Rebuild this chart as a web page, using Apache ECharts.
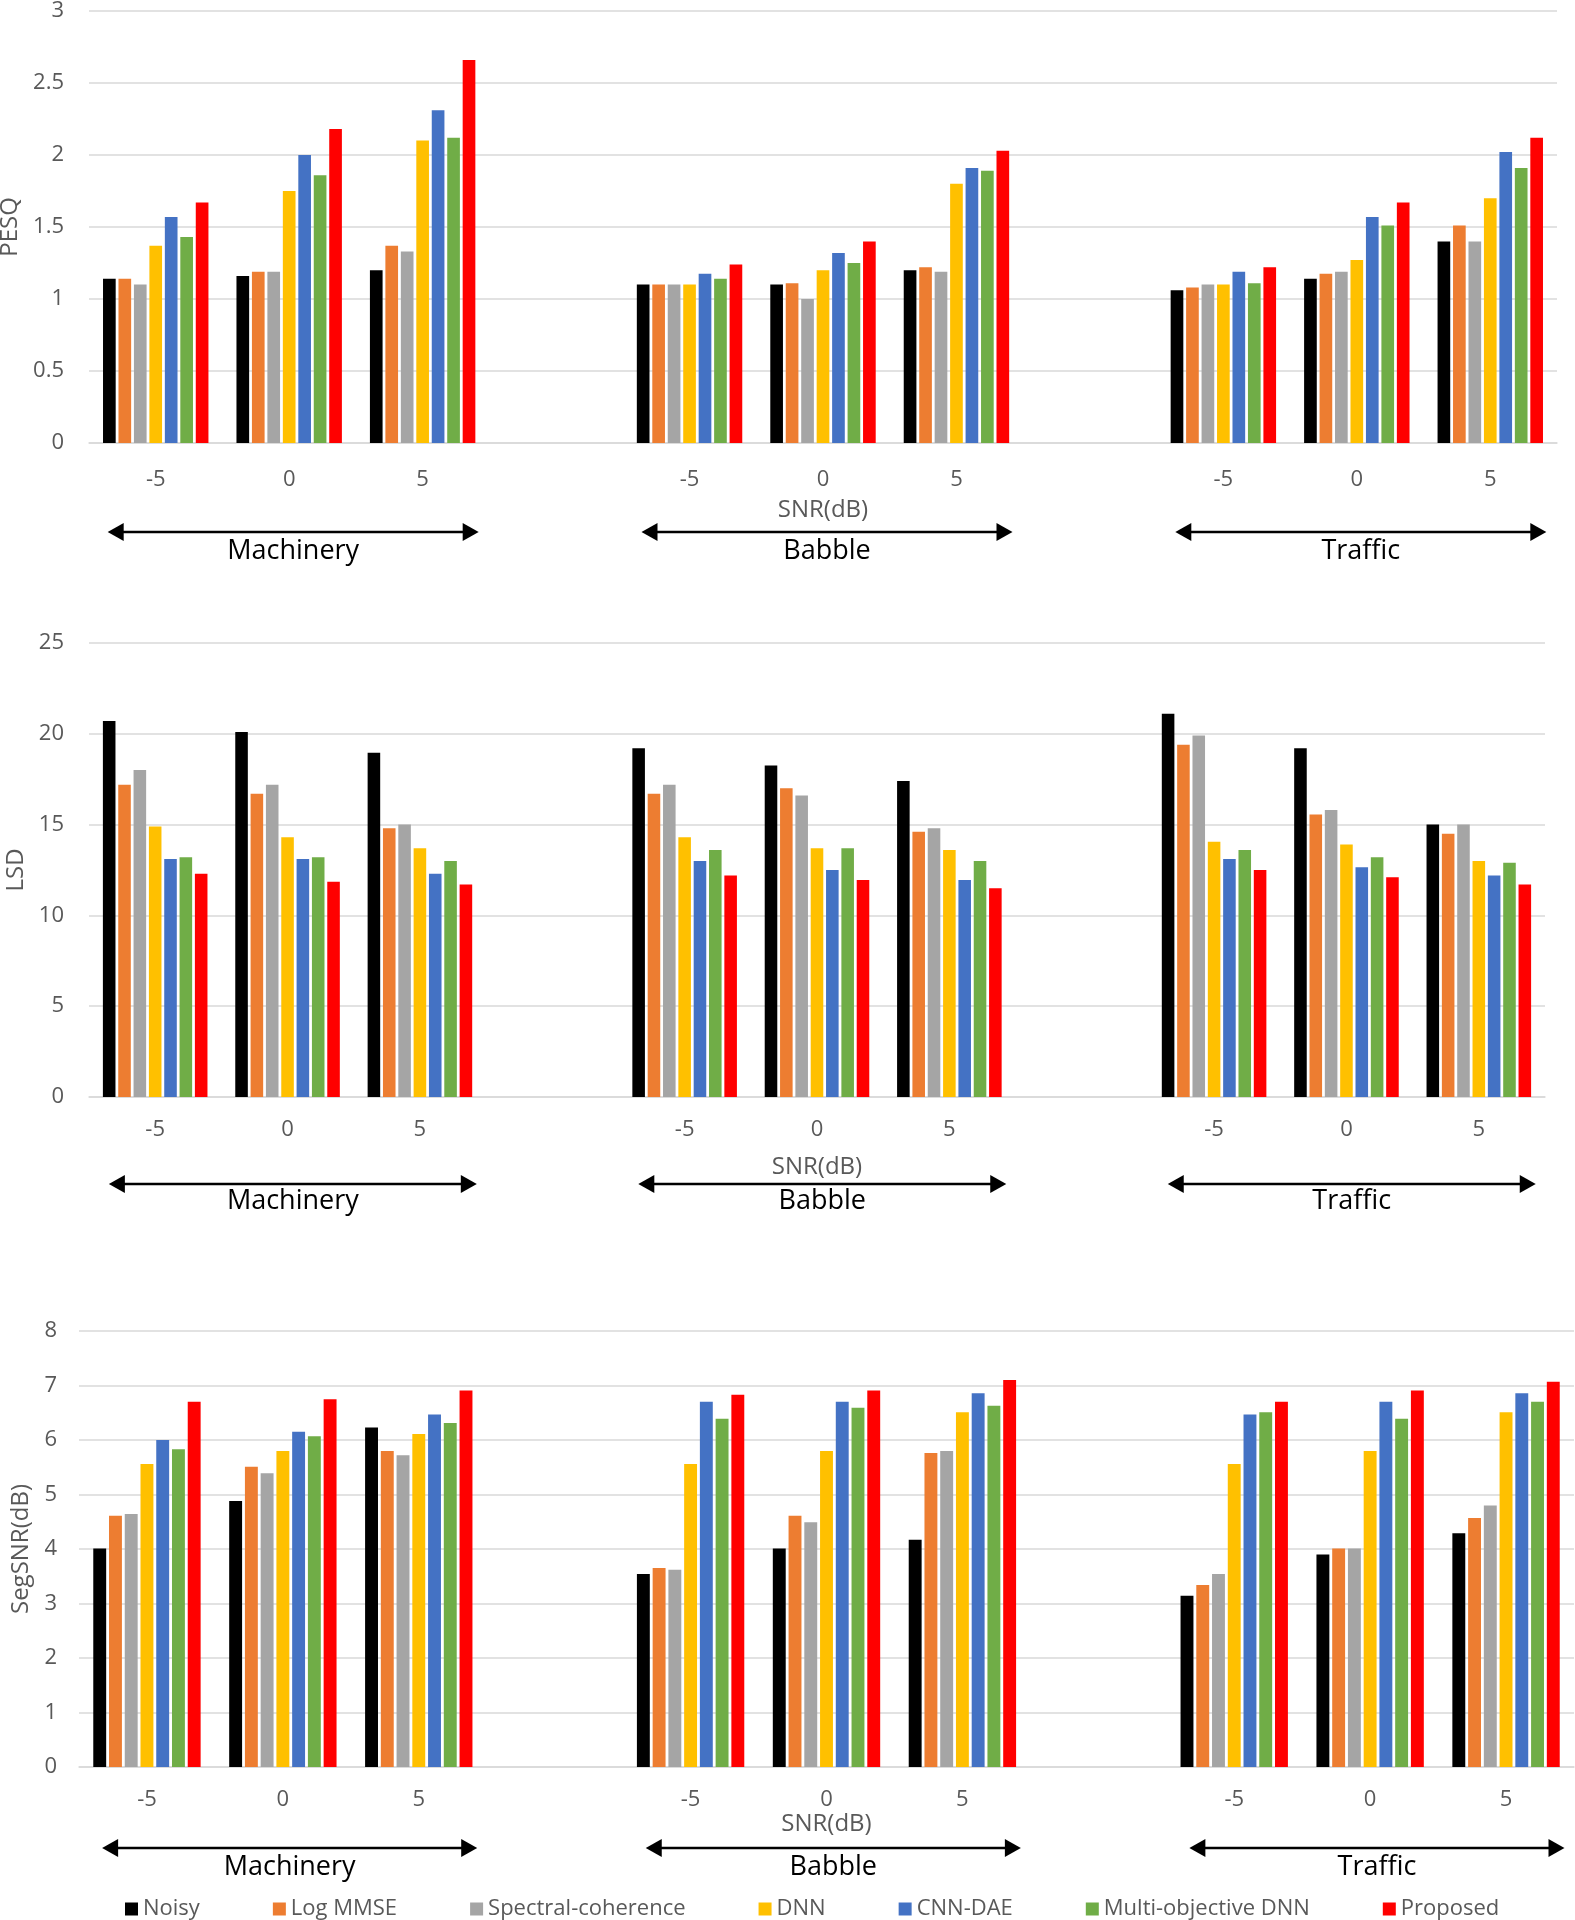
<!DOCTYPE html>
<html><head><meta charset="utf-8">
<script src="https://cdn.jsdelivr.net/npm/echarts@6/dist/echarts.min.js"></script>
<style>html,body{margin:0;padding:0;background:#fff}#c{width:1575px;height:1920px}</style>
</head><body><div id="c"></div>
<script>
// ---- data ----
const snrLabels = ['-5','0','5','','-5','0','5','','-5','0','5'];
const noiseGroups = ['Machinery','Babble','Traffic'];
const methods = ['Noisy','Log MMSE','Spectral-coherence','DNN','CNN-DAE','Multi-objective DNN','Proposed'];
const metricNames = ['PESQ','LSD','SegSNR(dB)'];
// each array: Machinery -5,0,5 | Babble -5,0,5 | Traffic -5,0,5
const pesqNoisy    = [1.14,1.16,1.20, 1.10,1.10,1.20, 1.06,1.14,1.40];
const pesqLogMMSE  = [1.14,1.19,1.37, 1.10,1.11,1.22, 1.08,1.175,1.51];
const pesqSpectral = [1.10,1.19,1.33, 1.10,1.00,1.19, 1.10,1.19,1.40];
const pesqDNN      = [1.37,1.75,2.10, 1.10,1.20,1.80, 1.10,1.27,1.70];
const pesqCNNDAE   = [1.57,2.00,2.31, 1.175,1.32,1.91, 1.19,1.57,2.02];
const pesqMultiDNN = [1.43,1.86,2.12, 1.14,1.25,1.89, 1.11,1.51,1.91];
const pesqProposed = [1.67,2.18,2.66, 1.24,1.40,2.03, 1.22,1.67,2.12];

const lsdNoisy    = [20.7,20.1,18.95, 19.2,18.25,17.4, 21.1,19.2,15.0];
const lsdLogMMSE  = [17.2,16.7,14.8, 16.7,17.0,14.6, 19.4,15.55,14.5];
const lsdSpectral = [18.0,17.2,15.0, 17.2,16.6,14.8, 19.9,15.8,15.0];
const lsdDNN      = [14.9,14.3,13.7, 14.3,13.7,13.6, 14.05,13.9,13.0];
const lsdCNNDAE   = [13.1,13.1,12.3, 13.0,12.5,11.95, 13.1,12.65,12.2];
const lsdMultiDNN = [13.2,13.2,13.0, 13.6,13.7,13.0, 13.6,13.2,12.9];
const lsdProposed = [12.3,11.85,11.7, 12.2,11.95,11.5, 12.5,12.1,11.7];

const segNoisy    = [4.01,4.88,6.23, 3.54,4.01,4.17, 3.14,3.90,4.29];
const segLogMMSE  = [4.61,5.51,5.80, 3.65,4.61,5.76, 3.34,4.01,4.57];
const segSpectral = [4.64,5.39,5.72, 3.62,4.49,5.80, 3.54,4.01,4.80];
const segDNN      = [5.56,5.80,6.11, 5.56,5.80,6.51, 5.56,5.80,6.51];
const segCNNDAE   = [6.00,6.15,6.47, 6.70,6.70,6.86, 6.47,6.70,6.86];
const segMultiDNN = [5.83,6.07,6.31, 6.39,6.59,6.63, 6.51,6.39,6.70];
const segProposed = [6.70,6.75,6.91, 6.83,6.91,7.10, 6.70,6.91,7.07];

const yMax = [3, 25, 8];
const yInterval = [0.5, 5, 1];

// ---- styles ----
const colors = ['#000000','#ED7D31','#A5A5A5','#FFC000','#4472C4','#70AD47','#FF0000'];
const FONT = '"Open Sans", "Noto Sans", sans-serif';
const grids = [
  {left: 89, top: 11, width: 1468, height: 432, outerBoundsMode: 'none', containLabel: false},
  {left: 89, top: 643, width: 1456, height: 454, outerBoundsMode: 'none', containLabel: false},
  {left: 79, top: 1331, width: 1495, height: 436, outerBoundsMode: 'none', containLabel: false}
];
const xLabelMargin = [26, 22, 22];
const yLabelMargin = [25, 25, 22];
const nameGapX = [55, 58, 43];
const nameGapY = [66, 60, 45];
const arrowOff = [[89,108],[87,104],[81,100]];
const arrowSpan = [[-0.36,0.42],[-0.35,0.43],[-0.33,0.43]];

const allData = [
  [pesqNoisy,pesqLogMMSE,pesqSpectral,pesqDNN,pesqCNNDAE,pesqMultiDNN,pesqProposed],
  [lsdNoisy,lsdLogMMSE,lsdSpectral,lsdDNN,lsdCNNDAE,lsdMultiDNN,lsdProposed],
  [segNoisy,segLogMMSE,segSpectral,segDNN,segCNNDAE,segMultiDNN,segProposed]
];
function withGaps(a){ return [a[0],a[1],a[2],null,a[3],a[4],a[5],null,a[6],a[7],a[8]]; }

const xAxis = [], yAxis = [], series = [];
for (let k = 0; k < 3; k++) {
  xAxis.push({
    type: 'category', gridIndex: k, data: snrLabels,
    axisTick: {show: false},
    axisLine: {lineStyle: {color: '#D9D9D9', width: 1.5}},
    axisLabel: {interval: 0, color: '#595959', fontSize: 22, fontFamily: FONT, margin: xLabelMargin[k]},
    name: 'SNR(dB)', nameLocation: 'middle', nameGap: nameGapX[k],
    nameTextStyle: {color: '#595959', fontSize: 24, fontFamily: FONT}
  });
  yAxis.push({
    type: 'value', gridIndex: k, min: 0, max: yMax[k], interval: yInterval[k],
    axisLine: {show: false}, axisTick: {show: false},
    splitLine: {lineStyle: {color: '#D9D9D9', width: 1.5}},
    axisLabel: {color: '#595959', fontSize: 22, fontFamily: FONT, margin: yLabelMargin[k]},
    name: metricNames[k], nameLocation: 'middle', nameGap: nameGapY[k],
    nameTextStyle: {color: '#595959', fontSize: 24, fontFamily: FONT}
  });
  for (let m = 0; m < 7; m++) {
    series.push({
      type: 'bar', name: methods[m], xAxisIndex: k, yAxisIndex: k,
      data: withGaps(allData[k][m]),
      itemStyle: {color: colors[m]},
      barCategoryGap: '21%', barGap: '22%'
    });
  }
}

const chart = echarts.init(document.getElementById('c'));
chart.setOption({
  animation: false,
  backgroundColor: '#fff',
  color: colors,
  grid: grids,
  xAxis, yAxis, series,
  legend: {
    data: methods, top: 1898, left: 125, padding: 0, icon: 'rect', itemWidth: 13, itemHeight: 13, itemGap: 73,
    textStyle: {color: '#595959', fontSize: 22, fontFamily: FONT}
  }
});

// arrows + group labels, positioned through the axes' scales
const graphics = [];
for (let k = 0; k < 3; k++) {
  const y0 = chart.convertToPixel({yAxisIndex: k}, 0);
  const c0 = chart.convertToPixel({xAxisIndex: k}, 0);
  const c1 = chart.convertToPixel({xAxisIndex: k}, 1);
  const cw = c1 - c0;
  const ay = y0 + arrowOff[k][0];
  const ly = y0 + arrowOff[k][1];
  for (let g = 0; g < 3; g++) {
    const xa = chart.convertToPixel({xAxisIndex: k}, g*4) + arrowSpan[k][0]*cw;
    const xb = chart.convertToPixel({xAxisIndex: k}, g*4+2) + arrowSpan[k][1]*cw;
    graphics.push({type:'line', shape:{x1: xa+8, y1: ay, x2: xb-8, y2: ay}, style:{stroke:'#000', lineWidth: 2.5}, silent:true});
    graphics.push({type:'polygon', shape:{points:[[xa, ay],[xa+16, ay-9],[xa+16, ay+9]]}, style:{fill:'#000'}, silent:true});
    graphics.push({type:'polygon', shape:{points:[[xb, ay],[xb-16, ay-9],[xb-16, ay+9]]}, style:{fill:'#000'}, silent:true});
    graphics.push({type:'text', x: (xa+xb)/2, y: ly, style:{text: noiseGroups[g], align:'center', verticalAlign:'middle', fill:'#000', fontSize: 27, fontFamily: FONT}, silent:true});
  }
}
chart.setOption({graphic: graphics});
</script>
</body></html>
